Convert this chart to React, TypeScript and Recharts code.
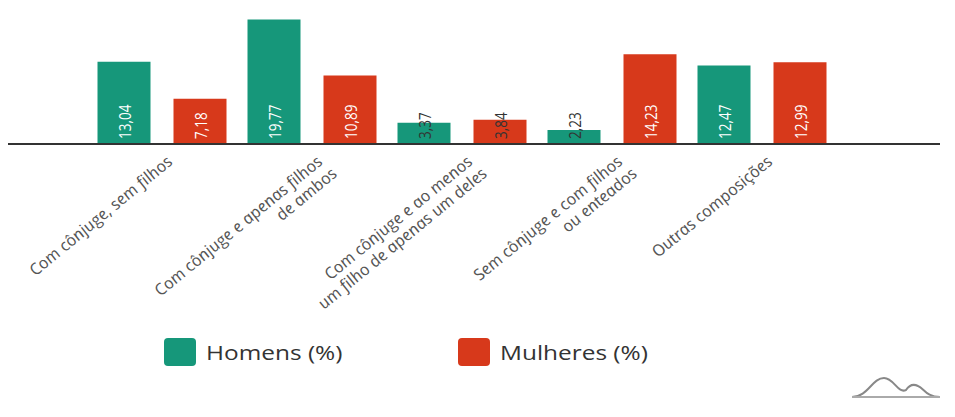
import { BarChart, Bar, XAxis, YAxis, LabelList } from "recharts";

const categories = [
  "Com cônjuge, sem filhos",
  "Com cônjuge e apenas filhos\nde ambos",
  "Com cônjuge e ao menos\num filho de apenas um deles",
  "Sem cônjuge e com filhos\nou enteados",
  "Outras composições",
];
const homens = [13.04, 19.77, 3.37, 2.23, 12.47];
const mulheres = [7.18, 10.89, 3.84, 14.23, 12.99];

const GREEN = "#16977a";
const RED = "#d7391b";
const STRETCH = 1.22;

const data = categories.map((c, i) => ({ cat: c, homens: homens[i], mulheres: mulheres[i] }));

const fmt = (v: number) => v.toFixed(2).replace(".", ",");

const BarValue = (props: any) => {
  const { x, y, width, height, value } = props;
  const cx = x + width / 2;
  const by = y + height - 5;
  const dark = value < 5;
  return (
    <text
      transform={`translate(${cx},${by}) scale(${STRETCH},1) rotate(-90)`}
      textAnchor="start"
      dominantBaseline="central"
      fill={dark ? "#333" : "#fff"}
      fontSize={13.5}
      fontFamily="'Open Sans', sans-serif"
    >
      {fmt(value)}
    </text>
  );
};

const CatTick = (props: any) => {
  const { x, y, payload } = props;
  const lines = String(payload.value).split("\n");
  return (
    <g transform={`translate(${x + 12},${y + 11}) scale(${STRETCH},1) rotate(-45)`}>
      <text textAnchor="end" fill="#555" fontSize={15} fontStyle="italic" fontFamily="'Open Sans', sans-serif">
        {lines.map((l, i) => (
          <tspan key={i} x={0} dy={i === 0 ? 0 : 17}>
            {l}
          </tspan>
        ))}
      </text>
    </g>
  );
};

const legendItems = [
  { name: "Homens (%)", color: GREEN, left: 164 },
  { name: "Mulheres (%)", color: RED, left: 458 },
];

export default function App() {
  return (
    <div style={{ position: "relative", width: 955, height: 417, margin: -8, background: "#fff" }}>
      <BarChart
        width={955}
        height={417}
        data={data}
        margin={{ top: 18, right: 15, bottom: 0, left: 7 }}
        barCategoryGap={10.5}
        barGap={23}
      >
        <XAxis
          dataKey="cat"
          height={273}
          padding={{ left: 80, right: 103 }}
          axisLine={{ stroke: "#333", strokeWidth: 2 }}
          tickLine={false}
          interval={0}
          tick={<CatTick />}
        />
        <YAxis hide domain={[0, 20]} />
        <Bar dataKey="homens" fill={GREEN} isAnimationActive={false}>
          <LabelList dataKey="homens" content={<BarValue />} />
        </Bar>
        <Bar dataKey="mulheres" fill={RED} isAnimationActive={false}>
          <LabelList dataKey="mulheres" content={<BarValue />} />
        </Bar>
      </BarChart>
      {legendItems.map((it) => (
        <div
          key={it.name}
          style={{ position: "absolute", left: it.left, top: 338, display: "flex", alignItems: "center" }}
        >
          <div style={{ width: 32, height: 28, borderRadius: 4, background: it.color }} />
          <span
            style={{
              marginLeft: 10,
              fontSize: 20,
              color: "#333",
              fontFamily: "'Open Sans', sans-serif",
              display: "inline-block",
              transform: `scaleX(${STRETCH})`,
              transformOrigin: "left center",
              whiteSpace: "nowrap",
            }}
          >
            {it.name}
          </span>
        </div>
      ))}
      <svg style={{ position: "absolute", left: 848, top: 372 }} width={96} height={32}>
        <path
          d="M4 25 C 20 25, 24 6, 36 6 C 46 6, 50 22, 58 18 C 62 12, 66 12, 70 14 C 76 16, 78 25, 92 25"
          fill="none"
          stroke="#888"
          strokeWidth={2}
        />
        <path d="M4 25 L 92 25" stroke="#aaa" strokeWidth={2} />
      </svg>
    </div>
  );
}
